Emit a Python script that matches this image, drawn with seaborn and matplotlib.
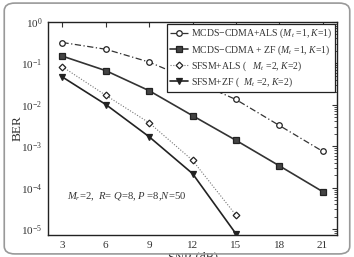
import matplotlib
matplotlib.use('Agg')
import matplotlib.pyplot as plt
import matplotlib.ticker as mticker
from matplotlib.patches import FancyBboxPatch
import numpy as np
import pandas as pd
import seaborn as sns

snr = [3, 6, 9, 12, 15, 18, 21]
snr_sfsm = [3, 6, 9, 12, 15]

mcds_als = [0.32, 0.22, 0.108, 0.039, 0.0135, 0.0032, 0.00076]
mcds_zf = [0.15, 0.067, 0.022, 0.0055, 0.0014, 0.00034, 0.000081]
sfsm_als = [0.083, 0.017, 0.0037, 0.00046, 0.000022]
sfsm_zf = [0.047, 0.0102, 0.0017, 0.00022, 0.0000078]

labels = [
    'MCDS$-$CDMA+ALS ($M_t$ =1, $K$=1)',
    'MCDS$-$CDMA + ZF ($M_t$ =1, $K$=1)',
    'SFSM+ALS (   $M_t$ =2, $K$=2)',
    'SFSM+ZF (  $M_t$ =2, $K$=2)',
]

sns.set_style('white')
plt.rcParams['font.family'] = ['Liberation Serif', 'DejaVu Serif']
plt.rcParams['mathtext.fontset'] = 'custom'
plt.rcParams['mathtext.rm'] = 'Liberation Serif'
plt.rcParams['mathtext.it'] = 'Liberation Serif:italic'

fig = plt.figure(figsize=(3.54, 2.57), dpi=100)
ax = fig.add_axes([0.1356, 0.0856, 0.8164, 0.8288])

styles = [
    dict(x=snr, y=mcds_als, marker='o', mfc='white', ls=(0, (5, 2, 1, 2)), c='#333333', lw=0.9),
    dict(x=snr, y=mcds_zf, marker='s', mfc='#444444', ls='-', c='#333333', lw=1.2),
    dict(x=snr_sfsm, y=sfsm_als, marker='D', mfc='white', ls=(0, (1, 1.5)), c='#777777', lw=0.8),
    dict(x=snr_sfsm, y=sfsm_zf, marker='v', mfc='#222222', ls='-', c='#222222', lw=1.2),
]
for st, lab in zip(styles, labels):
    df = pd.DataFrame({'SNR': st['x'], 'BER': st['y']})
    sns.lineplot(data=df, x='SNR', y='BER', ax=ax, color=st['c'], linestyle=st['ls'],
                 linewidth=st['lw'], marker=st['marker'], markersize=4 if st['marker'] != 'D' else 3.4,
                 markerfacecolor=st['mfc'], markeredgecolor='#222222', markeredgewidth=0.9,
                 label=lab)

ax.set_yscale('log')
ax.set_xlim(2, 22)
ax.set_ylim(10 ** -5.14, 1)
ax.set_xticks(snr)
ax.yaxis.set_major_locator(mticker.LogLocator(base=10, numticks=10))
ax.yaxis.set_minor_locator(mticker.LogLocator(base=10, subs=np.arange(2, 10), numticks=10))
ax.yaxis.set_minor_formatter(mticker.NullFormatter())
ax.tick_params(which='both', direction='in', top=True, right=True, labelsize=8, color='#333333',
               labelcolor='#333333')
ax.tick_params(which='major', length=3.5, pad=4)
ax.tick_params(which='minor', length=2)
for sp in ax.spines.values():
    sp.set_color('#222222')
    sp.set_linewidth(1.0)
ax.set_xlabel('SNR (dB)', fontsize=9, color='#333333')
ax.set_ylabel('BER', fontsize=9.5, color='#333333')
ax.xaxis.set_label_coords(0.5, -0.078)
ax.yaxis.set_label_coords(-0.083, 0.5)

ax.text(3.3, 10 ** -4.22, '$M_r$=2,  $R$= $Q$=8, $P$ =8,$N$=50', fontsize=7.7, va='center', color='#333333')

leg = ax.legend(loc='upper right', bbox_to_anchor=(0.993, 0.991), fontsize=7, frameon=True,
                fancybox=False, edgecolor='#222222', framealpha=1, handlelength=1.8,
                handletextpad=0.3, borderpad=0.3, labelspacing=0.28, borderaxespad=0)
leg.get_frame().set_linewidth(0.9)
for t in leg.get_texts():
    t.set_color('#333333')

border = FancyBboxPatch((0.012, 0.012), 0.976, 0.976, boxstyle='round,pad=0,rounding_size=0.03',
                        transform=fig.transFigure, fill=False, edgecolor='#999999', linewidth=1.2)
fig.patches.append(border)

fig.savefig('out.png', dpi=100)
